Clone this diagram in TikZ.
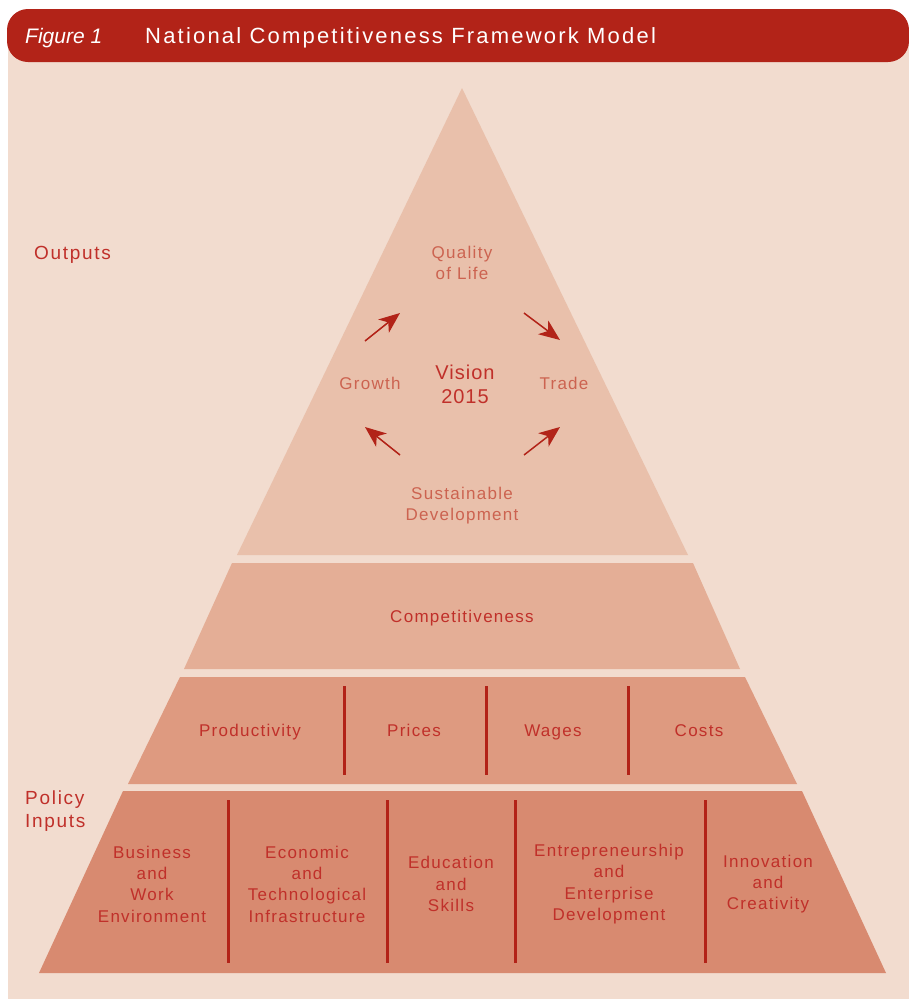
\documentclass[tikz,border=0pt]{standalone}
\usepackage{fontspec}
\usetikzlibrary{arrows.meta}
\newfontfamily\bodyfont[LetterSpace=7.5]{Liberation Sans}
\newfontfamily\sidefont[LetterSpace=9]{Liberation Sans}
\newfontfamily\visfont[LetterSpace=5]{Liberation Sans}
\newfontfamily\titlefont[LetterSpace=10]{Liberation Sans}
\newfontfamily\figfont{Liberation Sans}
\definecolor{bgpeach}{HTML}{F2DCCF}
\definecolor{titlered}{HTML}{B22318}
\definecolor{tricol}{HTML}{E9C0AB}
\definecolor{bandtwo}{HTML}{E4AE96}
\definecolor{bandthree}{HTML}{DE9A80}
\definecolor{bandfour}{HTML}{D88A70}
\definecolor{txtdark}{HTML}{C0302A}
\definecolor{txtlight}{HTML}{CC6350}
\begin{document}
\begin{tikzpicture}[x=1pt,y=-1pt,
  bodytext/.style={text=txtdark, align=center, font=\bodyfont\fontsize{17}{21.3}\selectfont},
  oneline/.style={text height=12.5pt, text depth=3.5pt},
  toptext/.style={text=txtlight, align=center, font=\bodyfont\fontsize{17}{21}\selectfont},
  sidetext/.style={text=txtdark, align=left, anchor=west, inner sep=0pt, font=\sidefont\fontsize{19}{23}\selectfont},
  divider/.style={draw=titlered, line width=3pt},
  arr/.style={draw=titlered, line width=1.5pt, -{Stealth[length=21pt,width=17pt,inset=6pt]}}]
\useasboundingbox (0,0) rectangle (909,999);
\fill[white] (0,0) rectangle (909,999);
\fill[bgpeach] (8,35) rectangle (909,999);
\fill[titlered, rounded corners=21pt] (7,9) rectangle (909,62);
\node[anchor=base west, inner sep=0pt, text=white, font=\figfont\fontsize{21}{21}\selectfont\itshape] (fig) at (25,43.5) {Figure 1};
\node[anchor=base west, inner sep=0pt, text=white, font=\titlefont\fontsize{22}{22}\selectfont] (title) at (145,43.5) {National Competitiveness Framework Model};
% pyramid
\fill[tricol] (462,88) -- (688,555) -- (237,555) -- cycle;
\fill[bandtwo] (232,563) -- (693,563) -- (740,669) -- (184,669) -- cycle;
\fill[bandthree] (180,677) -- (745,677) -- (797,784) -- (128,784) -- cycle;
\fill[bandfour] (123,791) -- (802,791) -- (886,973) -- (39,973) -- cycle;
% dividers
\draw[divider] (344,686) -- (344,775);
\draw[divider] (486,686) -- (486,775);
\draw[divider] (628,686) -- (628,775);
\draw[divider] (228,800) -- (228,963);
\draw[divider] (387,800) -- (387,963);
\draw[divider] (515,800) -- (515,963);
\draw[divider] (705,800) -- (705,963);
% side labels
\node[sidetext] (outputs) at (34,255) {Outputs};
\node[sidetext] (policy) at (25,811) {Policy\\Inputs};
% top triangle
\node[toptext] (quality) at (462,263) {Quality\\of Life};
\node[toptext, oneline] (growth) at (370,385) {Growth};
\node[toptext, oneline] (trade) at (564,385) {Trade};
\node[text=txtdark, align=center, font=\visfont\fontsize{20}{24}\selectfont] (vision) at (465,384) {Vision\\2015};
\node[toptext] (sust) at (462,506) {Sustainable\\Development};
\coordinate (a1s) at (365,341); \coordinate (a1e) at (400,313);
\coordinate (a2s) at (524,313); \coordinate (a2e) at (560,340);
\coordinate (a3s) at (524,455); \coordinate (a3e) at (560,427);
\coordinate (a4s) at (400,455); \coordinate (a4e) at (365,427);
\draw[arr] (a1s) -- (a1e);
\draw[arr] (a2s) -- (a2e);
\draw[arr] (a3s) -- (a3e);
\draw[arr] (a4s) -- (a4e);
% bands
\node[bodytext, oneline] (comp) at (462,618) {Competitiveness};
\node[bodytext, oneline] (prod) at (250,732) {Productivity};
\node[bodytext, oneline] (prices) at (414,732) {Prices};
\node[bodytext, oneline] (wages) at (553,732) {Wages};
\node[bodytext, oneline] (costs) at (699,732) {Costs};
\node[bodytext] (business) at (152,884) {Business\\and\\Work\\Environment};
\node[bodytext] (econ) at (307,884) {Economic\\and\\Technological\\Infrastructure};
\node[bodytext] (edu) at (451,884) {Education\\and\\Skills};
\node[bodytext] (entre) at (609,884) {Entrepreneurship\\and\\Enterprise\\Development};
\node[bodytext] (innov) at (768,884) {Innovation\\and\\Creativity};
\end{tikzpicture}
\end{document}
